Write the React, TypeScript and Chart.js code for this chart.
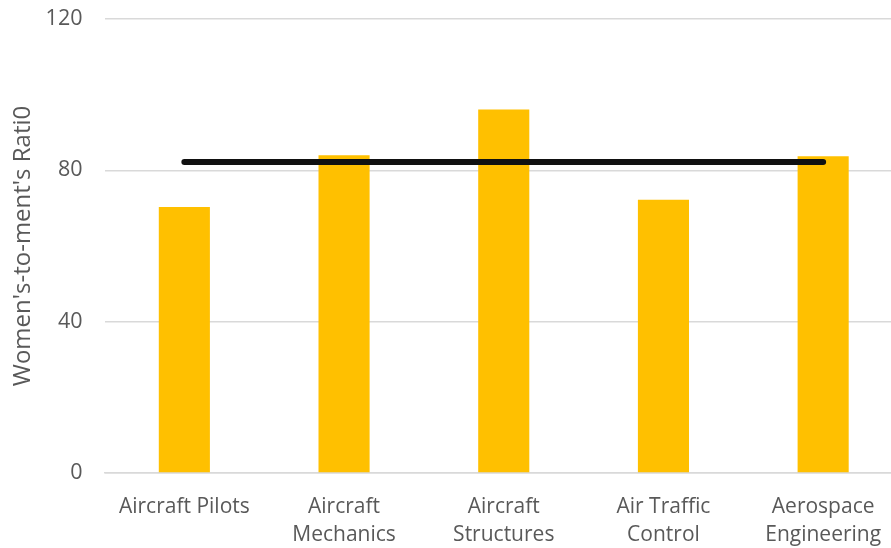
import React, { useEffect, useRef } from "react";
import { Chart, registerables } from "chart.js";

Chart.register(...registerables);

// Occupations and the women's-to-men's earnings ratio for each
const categories: string[][] = [
  ["Aircraft Pilots"],
  ["Aircraft", "Mechanics"],
  ["Aircraft", "Structures"],
  ["Air Traffic", "Control"],
  ["Aerospace", "Engineering"],
];
const ratioValues: number[] = [70.3, 84.0, 96.1, 72.2, 83.7];
// Overall ratio across the industry, drawn as a reference line
const overallRatio: number[] = [82.2, 82.2, 82.2, 82.2, 82.2];
const yTicks: number[] = [0, 40, 80, 120];

const FONT = "'Open Sans', Lato, sans-serif";
const TEXT_GRAY = "#595959";
const GRID_GRAY = "#d9d9d9";

export default function App() {
  const canvasRef = useRef<HTMLCanvasElement | null>(null);

  useEffect(() => {
    if (!canvasRef.current) return;
    const chart = new Chart(canvasRef.current, {
      type: "bar",
      data: {
        labels: categories,
        datasets: [
          {
            type: "line",
            label: "Overall",
            data: overallRatio,
            borderColor: "#111111",
            borderWidth: 6,
            borderCapStyle: "round",
            pointRadius: 0,
            fill: false,
            order: 0,
          },
          {
            type: "bar",
            label: "Ratio",
            data: ratioValues,
            backgroundColor: "#FFC000",
            barPercentage: 0.32,
            categoryPercentage: 1,
            order: 1,
          },
        ],
      },
      options: {
        animation: false,
        responsive: false,
        layout: { padding: { top: 19, right: 0, left: 0, bottom: 0 } },
        plugins: {
          legend: { display: false },
          tooltip: { enabled: false },
        },
        scales: {
          x: {
            grid: { display: false, drawTicks: false },
            border: { display: true, color: GRID_GRAY, width: 1.5 },
            ticks: {
              color: TEXT_GRAY,
              font: { family: FONT, size: 21, lineHeight: 1.33 },
              padding: 20,
              maxRotation: 0,
              autoSkip: false,
            },
            afterFit: (scale: any) => {
              scale.height = 75;
            },
          },
          y: {
            min: 0,
            max: 120,
            afterBuildTicks: (scale: any) => {
              scale.ticks = yTicks.map((v) => ({ value: v }));
            },
            grid: { color: GRID_GRAY, lineWidth: 1.5, drawTicks: false },
            border: { display: false },
            ticks: {
              color: TEXT_GRAY,
              font: { family: FONT, size: 21.5 },
              padding: 22,
            },
            title: {
              display: true,
              text: "Women's-to-ment's Rati0",
              color: TEXT_GRAY,
              font: { family: FONT, size: 24 },
              padding: { top: 9, bottom: 0 },
            },
            afterFit: (scale: any) => {
              scale.width = 104.5;
              scale.paddingTop = 0;
              scale.paddingBottom = 0;
            },
          },
        },
      },
    });
    return () => chart.destroy();
  }, []);

  return (
    <div
      style={{
        position: "fixed",
        left: 0,
        top: 0,
        width: 891,
        height: 548,
        overflow: "hidden",
        background: "#ffffff",
      }}
    >
      <canvas ref={canvasRef} width={903} height={548} style={{ display: "block" }} />
    </div>
  );
}
